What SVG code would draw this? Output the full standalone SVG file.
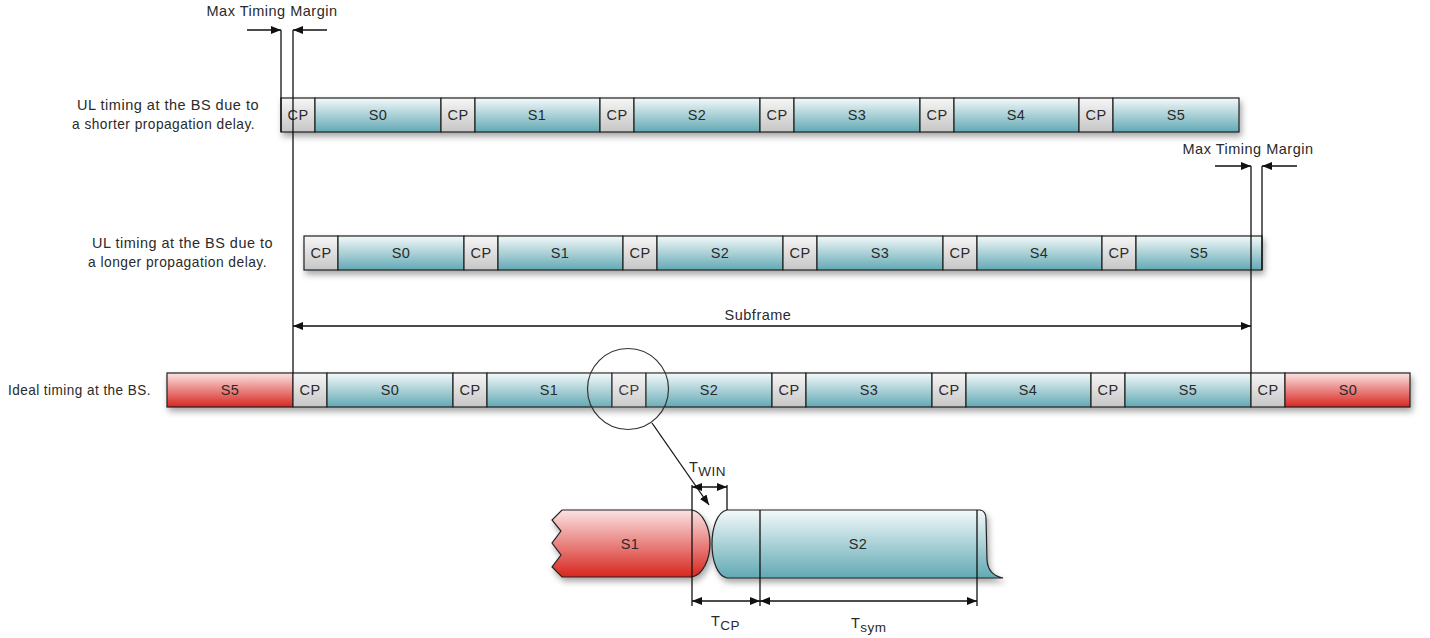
<svg xmlns="http://www.w3.org/2000/svg" width="1430" height="638" viewBox="0 0 1430 638">
<defs>
<linearGradient id="gT" x1="0" y1="0" x2="0" y2="1"><stop offset="0" stop-color="#f3f9fa"/><stop offset="1" stop-color="#62a9b4"/></linearGradient>
<linearGradient id="gR" x1="0" y1="0" x2="0" y2="1"><stop offset="0" stop-color="#fae3e3"/><stop offset="1" stop-color="#d8261f"/></linearGradient>
<linearGradient id="gC" x1="0" y1="0" x2="0" y2="1"><stop offset="0" stop-color="#f6f6f6"/><stop offset="1" stop-color="#c6c6c6"/></linearGradient>
<filter id="sh" x="-5%" y="-30%" width="110%" height="180%"><feDropShadow dx="2" dy="4" stdDeviation="3" flood-color="#000" flood-opacity="0.35"/></filter>
<marker id="ah" viewBox="0 0 10 8" refX="10" refY="4" markerWidth="10" markerHeight="8" markerUnits="userSpaceOnUse" orient="auto-start-reverse"><path d="M0,0 L10,4 L0,8 Z" fill="#111"/></marker>
<style>
text{font-family:"Liberation Sans",Arial,sans-serif;font-size:14.5px;letter-spacing:0.5px;fill:#2a2a2a}
.c{text-anchor:middle}
.t{fill:url(#gT);stroke:#222;stroke-width:1.2}
.r{fill:url(#gR);stroke:#222;stroke-width:1.2}
.g{fill:url(#gC);stroke:#222;stroke-width:1.2}
.l{stroke:#111;stroke-width:1.3;fill:none}
.a{stroke:#111;stroke-width:1.3;fill:none;marker-end:url(#ah)}
.b{stroke:#111;stroke-width:1.3;fill:none;marker-end:url(#ah);marker-start:url(#ah)}
</style>
</defs>
<rect width="1430" height="638" fill="#fff"/>

<g id="label-row1">
<text class="c" x="168" y="110" textLength="182" lengthAdjust="spacingAndGlyphs">UL timing at the BS due to</text>
<text class="c" x="163.5" y="129" textLength="183" lengthAdjust="spacingAndGlyphs">a shorter propagation delay.</text>
</g>
<g id="label-row2">
<text class="c" x="182.5" y="248" textLength="181" lengthAdjust="spacingAndGlyphs">UL timing at the BS due to</text>
<text class="c" x="177.5" y="267" textLength="179" lengthAdjust="spacingAndGlyphs">a longer propagation delay.</text>
</g>
<g id="label-row3">
<text x="8" y="395" textLength="143" lengthAdjust="spacingAndGlyphs">Ideal timing at the BS.</text>
</g>

<g id="row1" transform="translate(281,98)">
<g filter="url(#sh)">
<rect class="g" x="0" y="0" width="34" height="34"/><rect class="t" x="34" y="0" width="126" height="34"/>
<rect class="g" x="160" y="0" width="34" height="34"/><rect class="t" x="194" y="0" width="125" height="34"/>
<rect class="g" x="319" y="0" width="34" height="34"/><rect class="t" x="353" y="0" width="126" height="34"/>
<rect class="g" x="479" y="0" width="34" height="34"/><rect class="t" x="513" y="0" width="126" height="34"/>
<rect class="g" x="639" y="0" width="34" height="34"/><rect class="t" x="673" y="0" width="125" height="34"/>
<rect class="g" x="798" y="0" width="34" height="34"/><rect class="t" x="832" y="0" width="126" height="34"/>
</g>
<text class="c" x="17" y="22">CP</text><text class="c" x="97" y="22">S0</text>
<text class="c" x="177" y="22">CP</text><text class="c" x="256" y="22">S1</text>
<text class="c" x="336" y="22">CP</text><text class="c" x="416" y="22">S2</text>
<text class="c" x="496" y="22">CP</text><text class="c" x="576" y="22">S3</text>
<text class="c" x="656" y="22">CP</text><text class="c" x="735" y="22">S4</text>
<text class="c" x="815" y="22">CP</text><text class="c" x="895" y="22">S5</text>
</g>

<g id="row2" transform="translate(304,236)">
<g filter="url(#sh)">
<rect class="g" x="0" y="0" width="34" height="34"/><rect class="t" x="34" y="0" width="126" height="34"/>
<rect class="g" x="160" y="0" width="34" height="34"/><rect class="t" x="194" y="0" width="125" height="34"/>
<rect class="g" x="319" y="0" width="34" height="34"/><rect class="t" x="353" y="0" width="126" height="34"/>
<rect class="g" x="479" y="0" width="34" height="34"/><rect class="t" x="513" y="0" width="126" height="34"/>
<rect class="g" x="639" y="0" width="34" height="34"/><rect class="t" x="673" y="0" width="125" height="34"/>
<rect class="g" x="798" y="0" width="34" height="34"/><rect class="t" x="832" y="0" width="126" height="34"/>
</g>
<text class="c" x="17" y="22">CP</text><text class="c" x="97" y="22">S0</text>
<text class="c" x="177" y="22">CP</text><text class="c" x="256" y="22">S1</text>
<text class="c" x="336" y="22">CP</text><text class="c" x="416" y="22">S2</text>
<text class="c" x="496" y="22">CP</text><text class="c" x="576" y="22">S3</text>
<text class="c" x="656" y="22">CP</text><text class="c" x="735" y="22">S4</text>
<text class="c" x="815" y="22">CP</text><text class="c" x="895" y="22">S5</text>
</g>

<g id="row3" transform="translate(293,373)">
<g filter="url(#sh)">
<rect class="r" x="-126" y="0" width="126" height="34"/>
<rect class="g" x="0" y="0" width="34" height="34"/><rect class="t" x="34" y="0" width="126" height="34"/>
<rect class="g" x="160" y="0" width="34" height="34"/><rect class="t" x="194" y="0" width="125" height="34"/>
<rect class="g" x="319" y="0" width="34" height="34"/><rect class="t" x="353" y="0" width="126" height="34"/>
<rect class="g" x="479" y="0" width="34" height="34"/><rect class="t" x="513" y="0" width="126" height="34"/>
<rect class="g" x="639" y="0" width="34" height="34"/><rect class="t" x="673" y="0" width="125" height="34"/>
<rect class="g" x="798" y="0" width="34" height="34"/><rect class="t" x="832" y="0" width="126" height="34"/>
<rect class="g" x="958" y="0" width="34" height="34"/><rect class="r" x="992" y="0" width="125" height="34"/>
</g>
<text class="c" x="-63" y="22">S5</text>
<text class="c" x="17" y="22">CP</text><text class="c" x="97" y="22">S0</text>
<text class="c" x="177" y="22">CP</text><text class="c" x="256" y="22">S1</text>
<text class="c" x="336" y="22">CP</text><text class="c" x="416" y="22">S2</text>
<text class="c" x="496" y="22">CP</text><text class="c" x="576" y="22">S3</text>
<text class="c" x="656" y="22">CP</text><text class="c" x="735" y="22">S4</text>
<text class="c" x="815" y="22">CP</text><text class="c" x="895" y="22">S5</text>
<text class="c" x="975" y="22">CP</text><text class="c" x="1055" y="22">S0</text>
</g>

<g id="zoom-circle">
<circle cx="628" cy="389" r="40.5" fill="#fff" fill-opacity="0.08" stroke="#333" stroke-width="1.2"/>
</g>

<g id="detail-s1">
<path class="r" filter="url(#sh)" d="M562,510 L692,510 C703,512 710,528 710,543.5 C710,559 703,575 692,577 L562,577 L552,567 L561,555 L552,543 L561,531 L552,520 Z"/>
<text class="c" x="630" y="549">S1</text>
</g>
<g id="detail-s2">
<path class="t" filter="url(#sh)" d="M727,510 L980,510 Q986,511 986,519 L987,560 Q988,575 1003,578 L727,578 C717,576 712,560 712,544 C712,528 717,512 727,510 Z"/>
<line class="l" x1="760" y1="510" x2="760" y2="578"/>
<line class="l" x1="977" y1="510" x2="977" y2="578"/>
<text class="c" x="858" y="549">S2</text>
</g>

<g id="connectors">
<line class="l" x1="281" y1="30" x2="281" y2="132"/>
<line class="l" x1="293" y1="30" x2="293" y2="373"/>
<line class="a" x1="247" y1="30" x2="281" y2="30"/>
<line class="a" x1="327" y1="30" x2="293" y2="30"/>
<line class="l" x1="1251" y1="166" x2="1251" y2="373"/>
<line class="l" x1="1262" y1="166" x2="1262" y2="270"/>
<line class="a" x1="1215" y1="166" x2="1251" y2="166"/>
<line class="a" x1="1297" y1="166" x2="1262" y2="166"/>
<line class="b" x1="293" y1="326" x2="1251" y2="326"/>
<line class="a" x1="652" y1="423" x2="709" y2="505"/>
<line class="l" x1="692" y1="485" x2="692" y2="606"/>
<line class="l" x1="727" y1="485" x2="727" y2="510"/>
<line class="b" x1="692" y1="487" x2="727" y2="487"/>
<line class="l" x1="760" y1="578" x2="760" y2="606"/>
<line class="l" x1="977" y1="578" x2="977" y2="606"/>
<line class="b" x1="692" y1="601" x2="760" y2="601"/>
<line class="b" x1="760" y1="601" x2="977" y2="601"/>
</g>

<g id="annotations">
<text class="c" x="272" y="16">Max Timing Margin</text>
<text class="c" x="1248" y="154">Max Timing Margin</text>
<text class="c" x="758" y="320">Subframe</text>
<text x="689" y="472" font-size="15.5">T<tspan font-size="13.5" dy="4">WIN</tspan></text>
<text x="711" y="626" font-size="15.5">T<tspan font-size="13.5" dy="4">CP</tspan></text>
<text x="851" y="628" font-size="15.5">T<tspan font-size="13.5" dy="4">sym</tspan></text>
</g>
</svg>
